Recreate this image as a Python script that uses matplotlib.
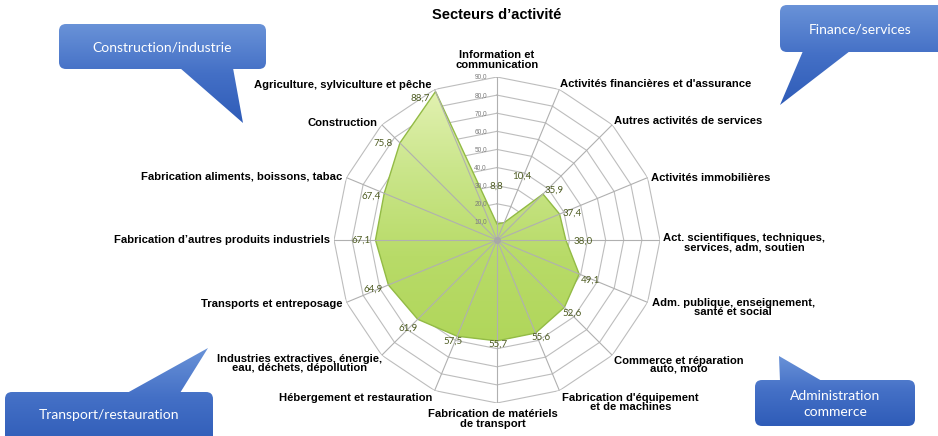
import numpy as np
import matplotlib
matplotlib.use("Agg")
import matplotlib.pyplot as plt
from matplotlib.patches import FancyBboxPatch, Polygon
from matplotlib.colors import LinearSegmentedColormap

# ---------------- data ----------------
title = "Secteurs d’activité"
categories = [
    "Information et\ncommunication",
    "Activités financières et d'assurance",
    "Autres activités de services",
    "Activités immobilières",
    "Act. scientifiques, techniques,\nservices, adm, soutien",
    "Adm. publique, enseignement,\nsanté et social",
    "Commerce et réparation\nauto, moto",
    "Fabrication d'équipement\net de machines",
    "Fabrication de matériels\nde transport",
    "Hébergement et restauration",
    "Industries extractives, énergie,\neau, déchets, dépollution",
    "Transports et entreposage",
    "Fabrication d’autres produits industriels",
    "Fabrication aliments, boissons, tabac",
    "Construction",
    "Agriculture, sylviculture et pêche",
]
values = [8.8, 10.4, 35.9, 37.4, 38.0, 49.1, 52.6, 55.6,
          55.7, 57.5, 61.9, 64.9, 67.1, 67.4, 75.8, 88.7]
ring_levels = [10, 20, 30, 40, 50, 60, 70, 80, 90]
callout_texts = ["Construction/industrie", "Finance/services",
                 "Transport/restauration", "Administration\ncommerce"]

# ---------------- styling / placement ----------------
W, H = 938, 436
fig = plt.figure(figsize=(W / 100, H / 100), dpi=100)

cx, cy, R = 497, 240, 163
ax = fig.add_axes([(cx - R) / W, (H - cy - R) / H, 2 * R / W, 2 * R / H],
                  projection="polar")
ax.set_theta_zero_location("N")
ax.set_theta_direction(-1)
ax.set_ylim(0, 90)
ax.axis("off")

n = len(categories)
theta = np.arange(n) * 2 * np.pi / n
theta_c = np.append(theta, theta[0])

grid_col = "#bdbdbd"
for lvl in ring_levels:
    ax.plot(theta_c, [lvl] * (n + 1), color=grid_col, lw=0.8, zorder=1)

vals_c = np.append(values, values[0])
area = ax.fill(theta_c, vals_c, facecolor="#bcde6c", edgecolor="none",
               zorder=2)[0]

# ---------------- overlay in pixel coordinates ----------------
ov = fig.add_axes([0, 0, 1, 1])
ov.set_xlim(0, W)
ov.set_ylim(H, 0)
ov.axis("off")
ov.set_facecolor("none")
ov.set_zorder(ax.get_zorder() - 1)

# gradient fill of the radar area (clipped to the polar polygon)
gcm = LinearSegmentedColormap.from_list(
    "gr", ["#e6f3b8", "#cbe68c", "#b8db68", "#b0d65a"])
ggrad = np.linspace(0, 1, 256).reshape(-1, 1)
gim = ax.imshow(ggrad, cmap=gcm, aspect="auto", origin="upper",
                extent=[-np.pi, np.pi, 0, 90], zorder=2,
                transform=ov.transData)
gim.set_extent([cx - R, cx + R, cy + R * 0.65, cy - R])
gim.set_clip_path(area)
ax.fill(theta_c, vals_c, facecolor="none", edgecolor="#93bb46",
        lw=1.0, zorder=2.5)
ax.set_xlim(0, 2 * np.pi)
ax.set_ylim(0, 90)

for t in theta:
    ax.plot([t, t], [0, ring_levels[-1]], color="#b0b0b0", lw=0.8, zorder=3)
ax.plot([0], [0], marker="o", ms=4, color="#a8a8a8", zorder=4)

# radial tick labels
for lvl in ring_levels:
    ax.annotate(f"{lvl:.1f}".replace(".", ","), xy=(0, lvl), xytext=(-10, 0),
                textcoords="offset pixels", ha="right", va="center",
                fontsize=4.7, color="#7a7a7a", family="Liberation Sans",
                zorder=5)

# data labels (offsets in pixels, image y-down)
data_offsets = [(-1, -38), (18, -46), (11, -4), (13, -1), (17, 1), (11, 6),
                (8, 6), (5, 4), (1, 3), (-4, 5), (-10, 9), (-15, 4),
                (-14, 0), (-13, 3), (-17, 0), (-15, 7)]
for t, v, (dx, dy) in zip(theta, values, data_offsets):
    ax.annotate(f"{v:.1f}".replace(".", ","), xy=(t, v), xytext=(dx, -dy),
                textcoords="offset pixels", ha="center", va="center",
                fontsize=7, color="#4e5c22", family="Lato", zorder=6)

# category labels
cat_place = [("center", 0, -17), ("left", 1, -5), ("left", 2, -4),
             ("left", 3, 0), ("left", 3, 2.5), ("left", 4, 5),
             ("left", 2, 10), ("left", 3, 12), ("center", -4, 16),
             ("right", -2, 7), ("right", 0, 8), ("right", -4, 2),
             ("right", -4, 0), ("right", -4, -1), ("right", -4, -2),
             ("right", -3, -4)]
for t, c, (ha, dx, dy) in zip(theta, categories, cat_place):
    ax.annotate(c, xy=(t, ring_levels[-1]), xytext=(dx, -dy),
                textcoords="offset pixels", ha=ha, va="center",
                multialignment="center", fontsize=8.1, fontweight="bold",
                family="Liberation Sans", linespacing=0.92,
                annotation_clip=False, zorder=6)

fig.text(cx / W, 1 - 15 / H, title, ha="center", va="center",
         fontsize=10.5, fontweight="bold", family="Liberation Sans")

# ---------------- callouts ----------------
ov2 = fig.add_axes([0, 0, 1, 1])
ov2.set_xlim(0, W)
ov2.set_ylim(H, 0)
ov2.axis("off")
ov2.set_facecolor("none")

cmap = LinearSegmentedColormap.from_list("bl", ["#6a93d8", "#4470c6", "#2f5cb8"])
grad = np.linspace(0, 1, 256).reshape(-1, 1)

callouts = [
    ((59, 24, 266, 69), [(180, 68), (233, 68), (243, 123)], (162, 47)),
    ((780, 5, 950, 52), [(803, 51), (850, 51), (780, 105)], (860, 29)),
    ((5, 392, 213, 446), [(127, 393), (180, 393), (208, 348)], (109, 415)),
    ((755, 380, 915, 426), [(780, 381), (822, 381), (779, 356)], (835, 404)),
]
for ((x0, y0, x1, y1), tail, (tx, ty)), txt in zip(callouts, callout_texts):
    ys = [p[1] for p in tail] + [y0, y1]
    gy0, gy1 = min(ys), max(ys)
    box = FancyBboxPatch((x0, y0), x1 - x0, y1 - y0,
                         boxstyle="round,pad=0,rounding_size=7",
                         facecolor="none", edgecolor="none")
    tri = Polygon(tail, closed=True, facecolor="none", edgecolor="none")
    ov2.add_patch(box)
    ov2.add_patch(tri)
    for patch in (box, tri):
        im = ov2.imshow(grad, cmap=cmap, aspect="auto", origin="upper",
                        extent=[min(x0, min(p[0] for p in tail)) - 2,
                                max(x1, max(p[0] for p in tail)) + 2,
                                gy1, gy0], zorder=1)
        im.set_clip_path(patch)
    ov2.text(tx, ty, txt, ha="center", va="center", color="white",
             fontsize=10, family="Lato", linespacing=1.35, zorder=3)

ov2.set_xlim(0, W)
ov2.set_ylim(H, 0)

fig.savefig("out.png", dpi=100)
